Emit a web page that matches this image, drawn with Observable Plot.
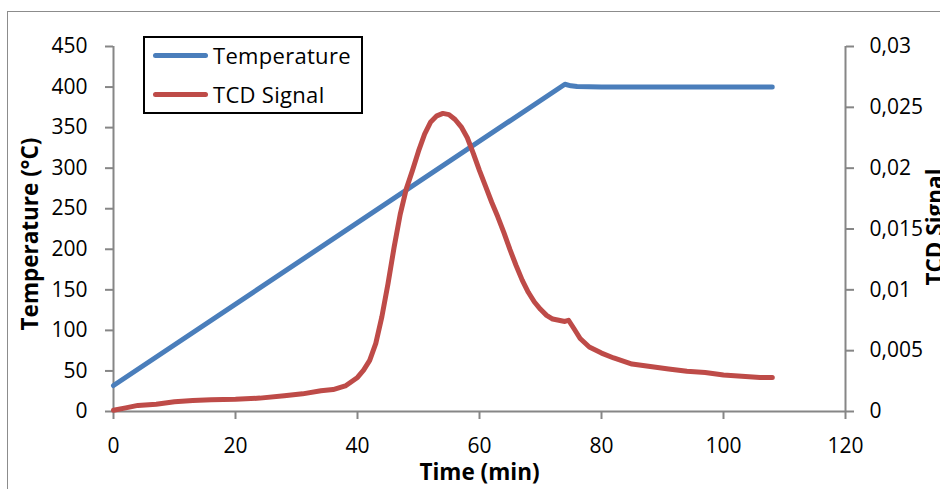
<!DOCTYPE html>
<html><head><meta charset="utf-8">
<script src="https://cdn.jsdelivr.net/npm/d3@7"></script>
<script src="https://cdn.jsdelivr.net/npm/@observablehq/plot@0.6"></script>
<style>
body{margin:0;background:#fff;}
#wrap{position:relative;width:940px;height:489px;overflow:hidden;font-family:"Open Sans";background:#fff;}
#border{position:absolute;left:7px;top:11px;width:1000px;height:1000px;border-left:1.5px solid #8c8c8c;border-top:1.5px solid #8c8c8c;}
#chart{position:absolute;left:0;top:0;}
#legend{position:absolute;left:143px;top:36px;width:220px;height:78px;border:2px solid #000;box-sizing:border-box;background:#fff;}
.row{position:absolute;left:8px;height:30px;display:flex;align-items:center;font-size:22px;letter-spacing:0.3px;color:#000;white-space:nowrap;}
.sw{width:55px;height:5px;border-radius:3px;margin-right:5px;}
</style></head>
<body>
<div id="wrap"><div id="border"></div><div id="chart"></div>
<div id="legend"></div></div>
<script>
// Data
const tempTime = [0, 74, 75, 76, 80, 108];
const tempValue = [32, 403.5, 401.5, 400.6, 400.2, 400];

const tcdTime = [0, 2, 4, 7, 10, 13, 16, 20, 24, 28, 31, 34, 36, 38, 40, 41, 42, 43, 44, 45, 46, 47, 48, 49, 50, 51, 52, 53, 54, 55, 56, 57, 58, 59, 60, 61, 62, 63, 64, 65, 66, 67, 68, 69, 70, 71, 72, 73, 74, 74.6, 75.5, 76.5, 78, 80, 82, 85, 88, 91, 94, 97, 100, 103, 106, 108];
const tcdValue = [0.0001, 0.0003, 0.0005, 0.0006, 0.0008, 0.0009, 0.00096, 0.0010, 0.0011, 0.0013, 0.00145, 0.0017, 0.0018, 0.0021, 0.0028, 0.0034, 0.0042, 0.0056, 0.0078, 0.0105, 0.0135, 0.0162, 0.0183, 0.0198, 0.0214, 0.0228, 0.0238, 0.0243, 0.0245, 0.0244, 0.0240, 0.0234, 0.0225, 0.0212, 0.0198, 0.0185, 0.0172, 0.0160, 0.0147, 0.0133, 0.0120, 0.0108, 0.0098, 0.0090, 0.0084, 0.0079, 0.0076, 0.0075, 0.0074, 0.0075, 0.0068, 0.0060, 0.0053, 0.0048, 0.0044, 0.0039, 0.0037, 0.0035, 0.0033, 0.0032, 0.0030, 0.0029, 0.0028, 0.0028];

const xTicks = [0, 20, 40, 60, 80, 100, 120];
const tempTicks = [0, 50, 100, 150, 200, 250, 300, 350, 400, 450];
const tcdTicks = [0, 0.005, 0.01, 0.015, 0.02, 0.025, 0.03];
const tcdTickLabels = ["0", "0,005", "0,01", "0,015", "0,02", "0,025", "0,03"];

const seriesNames = ["Temperature", "TCD Signal"];
const seriesColors = ["#4A7EBB", "#BE4B48"];
const xTitle = "Time (min)";
const yTitle = "Temperature (°C)";
const y2Title = "TCD Signal";

const tempMax = 450, tcdMax = 0.03, k = tempMax / tcdMax;
const axisColor = "#868686";

const tempData = tempTime.map((t, i) => ({t, v: tempValue[i]}));
const tcdData = tcdTime.map((t, i) => ({t, v: tcdValue[i]}));

const tcdFmt = v => {
  const i = tcdTicks.findIndex(t => Math.abs(t * k - v) < 1e-6);
  return i >= 0 ? tcdTickLabels[i] : "";
};

const titleStyle = {text: d => d, fontWeight: "bold", fontSize: 22.5, textAnchor: "middle", lineAnchor: "middle"};

const chart = Plot.plot({
  width: 940, height: 489,
  marginTop: 46, marginBottom: 78, marginLeft: 113, marginRight: 95,
  style: {fontFamily: "Open Sans", fontSize: "21px", background: "transparent", color: "#000", overflow: "visible"},
  x: {domain: [0, 120]},
  y: {domain: [0, tempMax]},
  marks: [
    Plot.ruleY([0], {stroke: axisColor, strokeWidth: 2}),
    Plot.ruleX([0, 120], {stroke: axisColor, strokeWidth: 2}),
    Plot.axisX(xTicks, {anchor: "bottom", tickSize: 8, tickPadding: 19, stroke: axisColor, strokeWidth: 2, label: null}),
    Plot.axisY(tempTicks, {anchor: "left", tickSize: 8, tickPadding: 18, stroke: axisColor, strokeWidth: 2, label: null}),
    Plot.axisY(tcdTicks.map(v => v * k), {anchor: "right", tickSize: 8, tickPadding: 16, stroke: axisColor, strokeWidth: 2, label: null, tickFormat: tcdFmt}),
    Plot.line(tempData, {x: "t", y: "v", stroke: seriesColors[0], strokeWidth: 5}),
    Plot.line(tcdData, {x: "t", y: d => d.v * k, stroke: seriesColors[1], strokeWidth: 5}),
    Plot.text([xTitle], {...titleStyle, frameAnchor: "bottom", dy: 61}),
    Plot.text([yTitle], {...titleStyle, frameAnchor: "left", dx: -83, dy: 5, rotate: -90}),
    Plot.text([y2Title], {...titleStyle, frameAnchor: "right", dx: 90, dy: -2, rotate: -90})
  ]
});
document.getElementById("chart").appendChild(chart);

const legend = document.getElementById("legend");
seriesNames.forEach((name, i) => {
  const row = document.createElement("div");
  row.className = "row";
  row.style.top = (i === 0 ? 2 : 41) + "px";
  const sw = document.createElement("div");
  sw.className = "sw";
  sw.style.background = seriesColors[i];
  const tx = document.createElement("span");
  tx.textContent = name;
  row.appendChild(sw); row.appendChild(tx);
  legend.appendChild(row);
});
</script>
</body></html>
